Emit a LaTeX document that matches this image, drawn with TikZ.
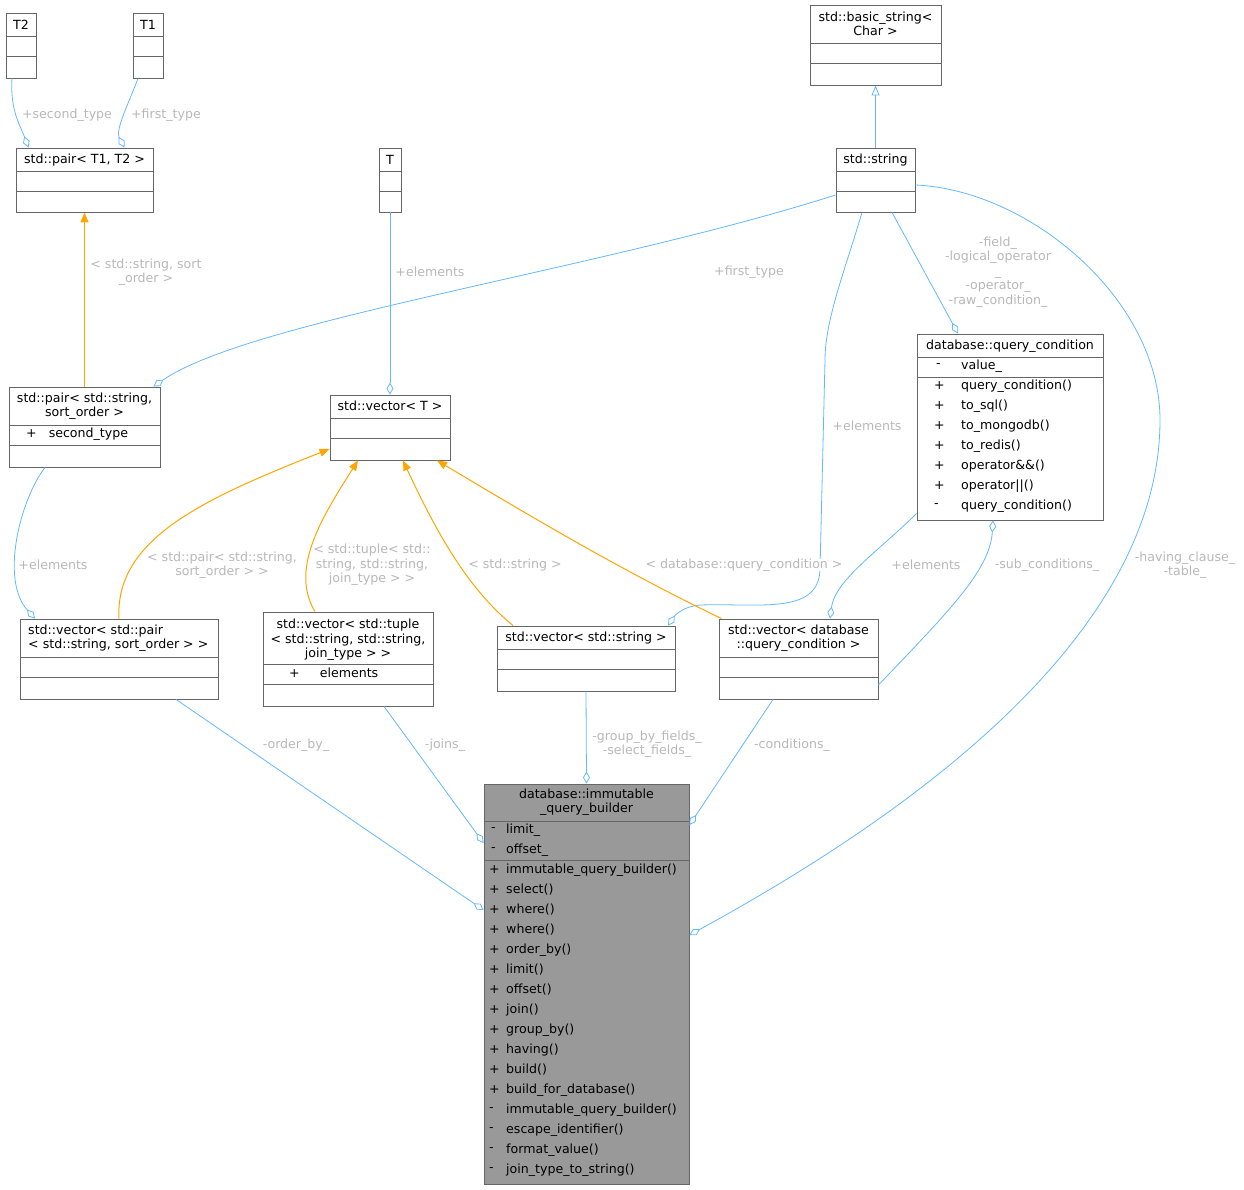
\documentclass[tikz,border=0pt]{standalone}
\usepackage{fontspec}
\setmainfont{DejaVu Sans}
\usetikzlibrary{arrows.meta}
\definecolor{boxc}{HTML}{666666}
\definecolor{blu}{HTML}{63B8FF}
\definecolor{ora}{HTML}{FFA500}
\definecolor{lab}{HTML}{B8B8B8}
\tikzset{
 bx/.style={draw=boxc,fill=white,inner sep=0,line width=0.9},
 t/.style={font=\fontsize{12.6}{14.5}\selectfont,inner sep=0,align=center},
 lbl/.style={t,text=lab},
 agg/.style={draw=blu,line width=0.8,-{Diamond[open,length=12,width=7,line width=0.8]}},
 inh/.style={draw=ora,line width=1,-{Triangle[length=10,width=8]}},
 inhb/.style={draw=blu,line width=0.8,-{Triangle[open,length=10,width=8,line width=0.8]}},
}
\newcommand\ubox[6][white]{%
 \node[bx,fill=#1,minimum width={#5-#3},minimum height={#6-#4}] (#2) at ({(#3+#5)/2},{(#4+#6)/2}) {};}
\newcommand\hl[3]{\draw[boxc,line width=0.9] (#1,#3) -- (#2,#3);}
\begin{document}
\begin{tikzpicture}[x=1pt,y=-1pt]
\useasboundingbox (0,0) rectangle (1244,1189);
% boxes
\ubox{t2}{6}{13}{36}{78}\hl{6}{36}{36}\hl{6}{36}{56}\node[t] at (21,25){T2};
\ubox{t1}{133}{13}{163}{78}\hl{133}{163}{36}\hl{133}{163}{56}\node[t] at (148,25){T1};
\ubox{pairTT}{16}{148}{153}{212}\hl{16}{153}{171}\hl{16}{153}{191}\node[t] at (84.5,160){std::pair< T1, T2 >};
\ubox{tt}{379}{148}{401}{212}\hl{379}{401}{171}\hl{379}{401}{191}\node[t] at (390,160){T};
\ubox{basic}{810}{5}{941}{85}\hl{810}{941}{43}\hl{810}{941}{63}\node[t] at (875.5,24){std::basic\_string<\\Char >};
\ubox{str}{836}{148}{915}{212}\hl{836}{915}{171}\hl{836}{915}{191}\node[t] at (875.5,160){std::string};
\ubox{pairSS}{9}{387}{160}{467}\hl{9}{160}{425}\hl{9}{160}{445}\node[t] at (84.5,406){std::pair< std::string,\\sort\_order >};
\node[t,anchor=west] at (26,434){+\hspace{12pt}second\_type};
\ubox{vecT}{330}{395}{450}{460}\hl{330}{450}{418}\hl{330}{450}{438}\node[t] at (390,406){std::vector< T >};
\ubox{qc}{917}{334}{1103}{520}\hl{917}{1103}{357}\hl{917}{1103}{377}\node[t] at (1010,346){database::query\_condition};
\node[t,anchor=west] at (936,366){-};\node[t,anchor=west] at (961,366){value\_};
\foreach \s/\n [count=\i from 0] in {+/query\_condition(),+/to\_sql(),+/to\_mongodb(),+/to\_redis(),+/operator\&\&(),+/operator||(),-/query\_condition()}{\node[t,anchor=west] at (934,386+20*\i){\s};\node[t,anchor=west] at (961,386+20*\i){\n};}
\ubox{vecP}{20}{619}{218}{699}\hl{20}{218}{657}\hl{20}{218}{677}\node[t,align=left,anchor=west] at (28,638){std::vector< std::pair\\< std::string, sort\_order > >};
\ubox{vecTup}{263}{612}{433}{706}\hl{263}{433}{664}\hl{263}{433}{684}\node[t] at (348,640){std::vector< std::tuple\\< std::string, std::string,\\join\_type > >};
\node[t,anchor=west] at (289,673){+\hspace{20pt}elements};
\ubox{vecS}{497}{626}{675}{691}\hl{497}{675}{649}\hl{497}{675}{669}\node[t] at (586,638){std::vector< std::string >};
\ubox{vecQ}{719}{619}{878}{699}\hl{719}{878}{657}\hl{719}{878}{677}\node[t] at (798.5,638){std::vector< database\\::query\_condition >};
\ubox[black!40]{bld}{484}{784}{689}{1184}\hl{484}{689}{821}\hl{484}{689}{860}\node[t] at (586.5,802){database::immutable\\\_query\_builder};
\foreach \s/\n [count=\i from 0] in {-/limit\_,-/offset\_}{\node[t,anchor=west] at (491,830+20*\i){\s};\node[t,anchor=west] at (506,830+20*\i){\n};}
\foreach \s/\n [count=\i from 0] in {+/immutable\_query\_builder(),+/select(),+/where(),+/where(),+/order\_by(),+/limit(),+/offset(),+/join(),+/group\_by(),+/having(),+/build(),+/build\_for\_database(),-/immutable\_query\_builder(),-/escape\_identifier(),-/format\_value(),-/join\_type\_to\_string()}{\node[t,anchor=west] at (489,870+20*\i){\s};\node[t,anchor=west] at (506,870+20*\i){\n};}
% connectors
\draw[agg] ([xshift=-9]t2.south) .. controls (10,110) and (20,125) .. ([xshift=-56]pairTT.north);
\node[lbl] at (67,115){+second\_type};
\draw[agg] ([xshift=-10]t1.south) .. controls (130,100) and (115,130) .. ([xshift=-29]pairTT.north east);
\node[lbl] at (166,115){+first\_type};
\draw[inh] (pairSS.north) -- (pairTT.south);
\node[lbl] at (146,272){< std::string, sort\\\_order >};
\draw[agg] (tt.south) -- (vecT.north);
\node[lbl] at (430,272){+elements};
\draw[inhb] (str.north) -- (basic.south);
\draw[agg] ([yshift=-15]str.west) .. controls (600,270) and (250,320) .. ([xshift=-7]pairSS.north east);
\node[lbl] at (749,272){+first\_type};
\draw[agg] ([xshift=-13.5]str.south) .. controls (845,270) and (825,320) .. (825,360) -- (820,570) .. controls (818,615) and (760,603) .. (700,605) .. controls (685,606) and (676,614) .. ([xshift=82]vecS.north);
\node[lbl] at (867,426){+elements};
\draw[agg] ([xshift=16.5]str.south) -- ([xshift=-52]qc.north);
\node[lbl] at (998,272){-field\_\\-logical\_operator\\\_\\-operator\_\\-raw\_condition\_};
\draw[agg] ([yshift=-5]str.east) .. controls (1030,190) and (1160,300) .. (1160,420) .. controls (1160,640) and (900,820) .. ([yshift=49]bld.east);
\node[lbl] at (1185,565){-having\_clause\_\\-table\_};
\draw[agg] ([xshift=-39.5]pairSS.south) .. controls (20,500) and (0,580) .. ([xshift=-84]vecP.north);
\node[lbl] at (53,565){+elements};
\draw[inh] (vecP.north) .. controls (115,540) and (200,500) .. ([yshift=-21.5]vecT.west);
\node[lbl] at (222,565){< std::pair< std::string,\\sort\_order > >};
\draw[inh] ([xshift=-33]vecTup.north) .. controls (290,570) and (320,520) .. ([xshift=-32]vecT.south);
\node[lbl,fill=white] at (372,565){< std::tuple< std::\\string, std::string,\\join\_type > >};
\draw[inh] ([xshift=-73]vecS.north) .. controls (470,590) and (440,540) .. ([xshift=13]vecT.south);
\node[lbl] at (515,565){< std::string >};
\draw[inh] ([xshift=3]vecQ.north west) .. controls (620,570) and (520,510) .. ([xshift=47]vecT.south);
\node[lbl,fill=white] at (744,565){< database::query\_condition >};
\draw[agg] ([yshift=7]qc.south west) .. controls (880,550) and (835,580) .. ([xshift=31.5]vecQ.north);
\node[lbl] at (926,565){+elements};
\draw[agg] ([yshift=-26]vecQ.east) .. controls (950,610) and (990,570) .. ([xshift=-17]qc.south);
\node[lbl] at (1047,565){-sub\_conditions\_};
\draw[agg] ([xshift=57]vecP.south) -- ([yshift=74]bld.west);
\node[lbl] at (296,745){-order\_by\_};
\draw[agg] ([xshift=36]vecTup.south) -- ([yshift=141]bld.west);
\node[lbl] at (445,745){-joins\_};
\draw[agg] (vecS.south) -- (bld.north);
\node[lbl] at (647,744){-group\_by\_fields\_\\-select\_fields\_};
\draw[agg] ([xshift=-25.5]vecQ.south) -- ([yshift=159]bld.east);
\node[lbl] at (792,745){-conditions\_};
\end{tikzpicture}
\end{document}
